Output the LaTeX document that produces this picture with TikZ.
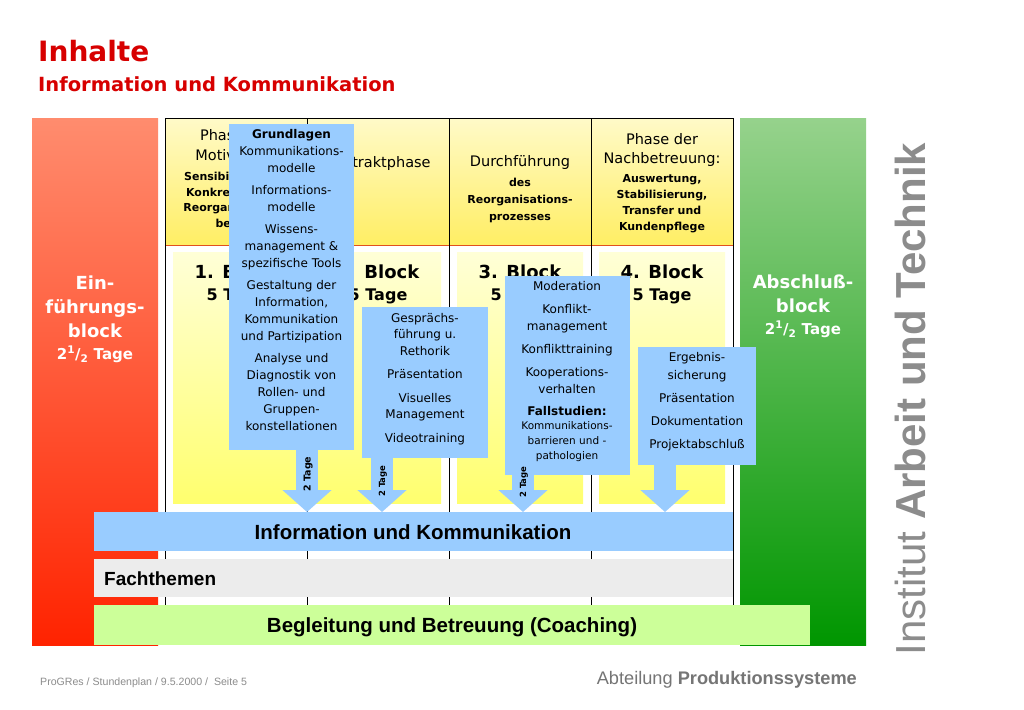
\documentclass[tikz,border=0pt]{standalone}
\usepackage{fontspec}
\setmainfont{DejaVu Sans}
\newfontfamily\lib{Liberation Sans}
\usetikzlibrary{arrows.meta}
\definecolor{tred}{RGB}{215,0,0}
\definecolor{boxblue}{RGB}{153,204,255}
\definecolor{fachgray}{RGB}{236,236,236}
\definecolor{coachgreen}{RGB}{204,255,153}
\definecolor{redtop}{RGB}{255,140,110}
\definecolor{redbot}{RGB}{255,35,0}
\definecolor{greentop}{RGB}{150,210,140}
\definecolor{greenbot}{RGB}{0,150,0}
\definecolor{hdtop}{RGB}{255,250,200}
\definecolor{hdbot}{RGB}{255,238,100}
\definecolor{intop}{RGB}{255,255,215}
\definecolor{inbot}{RGB}{255,255,110}
\definecolor{hdline}{RGB}{225,80,30}
\definecolor{iatgray}{RGB}{140,140,140}
\begin{document}
\begin{tikzpicture}[x=1pt,y=-1pt,
  panel/.style={anchor=north west, inner sep=0pt, draw=none},
  bluebox/.style={panel, fill=boxblue},
  boxtext/.style={anchor=north, align=center, inner sep=0pt, font=\fontsize{12}{17}\selectfont},
  hdtext/.style={inner sep=0pt, font=\fontsize{14.5}{16}\selectfont},
  hdsmall/.style={inner sep=0pt, align=center, font=\bfseries\fontsize{11}{16}\selectfont},
  blocktext/.style={inner sep=0pt, font=\bfseries\fontsize{18}{20}\selectfont},
  tagetext/.style={inner sep=0pt, font=\bfseries\fontsize{16}{18}\selectfont},
  sidetext/.style={inner sep=0pt, align=center, text=white, font=\bfseries\fontsize{18}{24}\selectfont},
  barlabel/.style={inner sep=0pt, font=\lib\bfseries\fontsize{20.5}{22}\selectfont},
  bluearrow/.style={draw=boxblue, line width=22pt, -{Triangle[width=48pt,length=22pt]}},
  arrowlabel/.style={inner sep=0pt, rotate=90, font=\bfseries\fontsize{9.5}{10}\selectfont}
]
\useasboundingbox (0,0) rectangle (1024,709);
\fill[white] (0,0) rectangle (1024,709);

% title
\node[anchor=base west, inner sep=0pt, text=tred, font=\bfseries\fontsize{28}{32}\selectfont] (t1) at (38,61) {Inhalte};
\node[anchor=base west, inner sep=0pt, text=tred, font=\bfseries\fontsize{19.5}{22}\selectfont] (t2) at (38,91) {Information und Kommunikation};

% side blocks
\node[panel, minimum width=126pt, minimum height=527pt, top color=redtop, bottom color=redbot] (ein) at (32,118) {};
\node[panel, minimum width=126pt, minimum height=527pt, top color=greentop, bottom color=greenbot] (abs) at (740,118) {};
\node[sidetext] (eintxt) at (95,319) {Ein-\\führungs-\\block\\[-2pt]{\fontsize{15}{18}\selectfont 2\textsuperscript{1}/\textsubscript{2} Tage}};
\node[sidetext] (abstxt) at (803,306) {Abschluß-\\block\\[-2pt]{\fontsize{15}{18}\selectfont 2\textsuperscript{1}/\textsubscript{2} Tage}};

% middle frame
\node[panel, fill=white, minimum width=568pt, minimum height=487pt] (frame) at (165,118) {};
\node[panel, minimum width=568pt, minimum height=127pt, top color=hdtop, bottom color=hdbot] (hdr) at (165,118) {};
\foreach \cx/\n in {236/1,378/2,520/3,662/4}{
  \node[panel, minimum width=126pt, minimum height=251pt, top color=intop, bottom color=inbot] (in\n) at (\cx-63,252) {};
}
\draw[hdline, line width=1.5pt] (hdr.south west) -- (hdr.south east);
\draw[black, line width=0.8pt] (frame.north west) rectangle (frame.south east);
\foreach \x in {307,449,591}{ \draw[black, line width=0.8pt] (\x,118) -- (\x,605); }

% header texts
\node[hdtext] (h1a) at (236,135) {Phase der};
\node[hdtext] (h1b) at (236,155) {Motivation:};
\node[hdsmall] (h1c) at (236,200) {Sensibilisierung,\\[-0.5pt]Konkretisierung\\[-0.5pt]Reorganisations-\\[-0.5pt]bedarf};
\node[hdtext] (h2a) at (378,163) {Kontraktphase};
\node[hdtext] (h3a) at (520,162) {Durchführung};
\node[hdsmall] (h3b) at (520,200) {des\\[1pt]Reorganisations-\\[1pt]prozesses};
\node[hdtext, align=center, font=\fontsize{14.5}{19}\selectfont] (h4a) at (662,150) {Phase der\\Nachbetreuung:};
\node[hdsmall] (h4b) at (662,204) {Auswertung,\\Stabilisierung,\\Transfer und\\Kundenpflege};

% block labels
\foreach \cx/\n in {236/1,378/2,520/3,662/4}{
  \node[blocktext] (bl\n) at (\cx,272) {\n. Block};
  \node[tagetext] (tg\n) at (\cx,296) {5 Tage};
}

% blue boxes
\node[bluebox, minimum width=125pt, minimum height=326pt] (b1) at (229,124) {};
\node[bluebox, minimum width=126pt, minimum height=151pt] (b2) at (362,307) {};
\node[bluebox, minimum width=125pt, minimum height=199pt] (b3) at (505,276) {};
\node[bluebox, minimum width=118pt, minimum height=118pt] (b4) at (638,347) {};

\node[boxtext] (b1t) at (291.5,129) {\textbf{Grundlagen}\\Kommunikations-\\modelle\\[5pt]Informations-\\modelle\\[5pt]Wissens-\\management \&\\spezifische Tools\\[5pt]Gestaltung der\\Information,\\Kommunikation\\und Partizipation\\[5pt]Analyse und\\Diagnostik von\\Rollen- und\\Gruppen-\\konstellationen};
\node[boxtext, font=\fontsize{12}{16.5}\selectfont] (b2t) at (425,313) {Gesprächs-\\führung u.\\Rethorik\\[7pt]Präsentation\\[7pt]Visuelles\\Management\\[7pt]Videotraining};
\node[boxtext, font=\fontsize{12}{17}\selectfont] (b3t) at (567,281) {Moderation\\[6pt]Konflikt-\\management\\[6pt]Konflikttraining\\[6pt]Kooperations-\\verhalten\\[5pt]\textbf{Fallstudien:}\\[-3pt]{\fontsize{10.5}{15.5}\selectfont Kommunikations-}\\[-2pt]{\fontsize{10.5}{15.5}\selectfont barrieren und -}\\[-2pt]{\fontsize{10.5}{15.5}\selectfont pathologien}};
\node[boxtext, font=\fontsize{12}{18}\selectfont] (b4t) at (697,352) {Ergebnis-\\sicherung\\[5pt]Präsentation\\[5pt]Dokumentation\\[5pt]Projektabschluß};

% bars
\node[panel, fill=boxblue, minimum width=639pt, minimum height=39pt] (info) at (94,512) {};
\node[barlabel] (infot) at (413,532) {Information und Kommunikation};
\node[panel, fill=fachgray, minimum width=639pt, minimum height=38pt] (fach) at (94,559) {};
\node[barlabel, anchor=west, font=\lib\bfseries\fontsize{19}{20}\selectfont] (facht) at (104,579) {Fachthemen};
\node[panel, fill=coachgreen, minimum width=716pt, minimum height=40pt] (coach) at (94,605) {};
\node[barlabel] (coacht) at (452,627) {Begleitung und Betreuung (Coaching)};

% arrows
\coordinate (a1) at (307,0);
\coordinate (a2) at (382,0);
\coordinate (a3) at (523,0);
\coordinate (a4) at (665,0);
\draw[bluearrow] (b1.south -| a1) -- (info.north -| a1);
\draw[bluearrow] (b2.south -| a2) -- (info.north -| a2);
\draw[bluearrow] (b3.south -| a3) -- (info.north -| a3);
\draw[bluearrow] (b4.south -| a4) -- (info.north -| a4);
\node[arrowlabel] (l1) at (308,474) {2 Tage};
\node[arrowlabel, font=\bfseries\fontsize{8.5}{10}\selectfont] (l2) at (383,481) {2 Tage};
\node[arrowlabel, font=\bfseries\fontsize{8.5}{10}\selectfont] (l3) at (524,482) {2 Tage};

% vertical institute name
\node[rotate=90, inner sep=0pt, text=iatgray, font=\lib\fontsize{42}{46}\selectfont] (iat) at (910,399) {Institut \textbf{Arbeit und Technik}};

% footer
\node[anchor=base west, inner sep=0pt, text=iatgray, font=\lib\fontsize{10.6}{12}\selectfont] (f1) at (40,685) {ProGRes / Stundenplan / 9.5.2000 /\ \ Seite 5};
\node[anchor=base east, inner sep=0pt, text=iatgray!120, font=\lib\fontsize{18.2}{20}\selectfont] (f2) at (857,684) {Abteilung \textbf{Produktionssysteme}};
\end{tikzpicture}
\end{document}
